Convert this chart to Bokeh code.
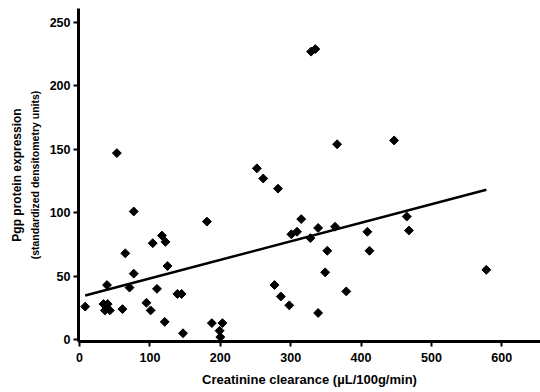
import numpy as np
from bokeh.plotting import figure
from bokeh.models import Range1d, LinearAxis, FixedTicker
from bokeh.embed import file_html
from bokeh.resources import INLINE

# Creatinine clearance (µL/100g/min)
clearance = [8, 34, 40, 36, 43, 39, 53, 61, 65, 71, 77, 77, 95, 101, 104, 110, 117, 122,
             121, 125, 139, 145, 147, 181, 188, 199, 200, 203, 252, 261, 277, 282, 286,
             298, 301, 309, 315, 328, 329, 335, 339, 339, 349, 352, 363, 366, 379, 409,
             412, 447, 465, 468, 578]
# Pgp protein expression (standardized densitometry units)
pgp = [26, 28, 28, 23, 23, 43, 147, 24, 68, 41, 101, 52, 29, 23, 76, 40, 82, 77,
       14, 58, 36, 36, 5, 93, 13, 7, 2, 13, 135, 127, 43, 119, 34,
       27, 83, 85, 95, 80, 227, 229, 88, 21, 53, 70, 89, 154, 38, 85,
       70, 157, 97, 86, 55]

# regression line
fit_intercept = 33.6
fit_slope = 0.1463

x_ticks = [0, 100, 200, 300, 400, 500, 600]
y_ticks = [0, 50, 100, 150, 200, 250]

FONT = "Liberation Sans"

p = figure(width=540, height=392, output_backend="svg", toolbar_location=None,
           x_range=Range1d(-1.5, 655), y_range=Range1d(-1.5, 261),
           min_border_left=78, min_border_right=0, min_border_top=8, min_border_bottom=51)
p.grid.visible = False
p.outline_line_color = None

for ax in (p.xaxis[0], p.yaxis[0]):
    ax.axis_line_width = 3
    ax.axis_line_color = "black"
    ax.major_tick_line_width = 2
    ax.major_tick_line_color = "black"
    ax.major_tick_in = 0
    ax.major_tick_out = 5
    ax.minor_tick_line_color = None
    ax.major_label_text_font = FONT
    ax.major_label_text_font_style = "bold"
    ax.major_label_text_color = "black"
    ax.major_label_text_font_size = "12.5px"
    ax.axis_label_text_font = FONT
    ax.axis_label_text_font_style = "bold"
    ax.axis_label_text_color = "black"

p.xaxis[0].ticker = FixedTicker(ticks=x_ticks)
p.yaxis[0].ticker = FixedTicker(ticks=y_ticks)
p.xaxis[0].major_label_standoff = 6
p.yaxis[0].major_label_standoff = 3

p.xaxis[0].axis_label = "Creatinine clearance (µL/100g/min)"
p.xaxis[0].axis_label_text_font_size = "13px"
p.xaxis[0].axis_label_standoff = 7

p.yaxis[0].axis_label = "(standardized densitometry units)"
p.yaxis[0].axis_label_text_font_size = "10.5px"
p.yaxis[0].axis_label_standoff = 6

outer = LinearAxis(ticker=FixedTicker(ticks=[]), axis_line_color=None,
                   major_tick_line_color=None, minor_tick_line_color=None,
                   major_tick_out=0, major_tick_in=0, minor_tick_out=0, minor_tick_in=0,
                   major_label_standoff=0,
                   axis_label="Pgp protein expression", axis_label_standoff=2,
                   axis_label_text_font=FONT, axis_label_text_font_style="bold",
                   axis_label_text_font_size="12px", axis_label_text_color="black")
p.add_layout(outer, "left")

x0, x1 = min(clearance), max(clearance)
fx = np.array([x0, x1])
p.line(fx, fit_intercept + fit_slope * fx, line_color="black", line_width=2.5)

p.scatter(clearance, pgp, marker="square", angle=np.pi / 4, size=6.3,
          fill_color="black", line_color="black")

open("out.html", "w").write(file_html(p, INLINE))
